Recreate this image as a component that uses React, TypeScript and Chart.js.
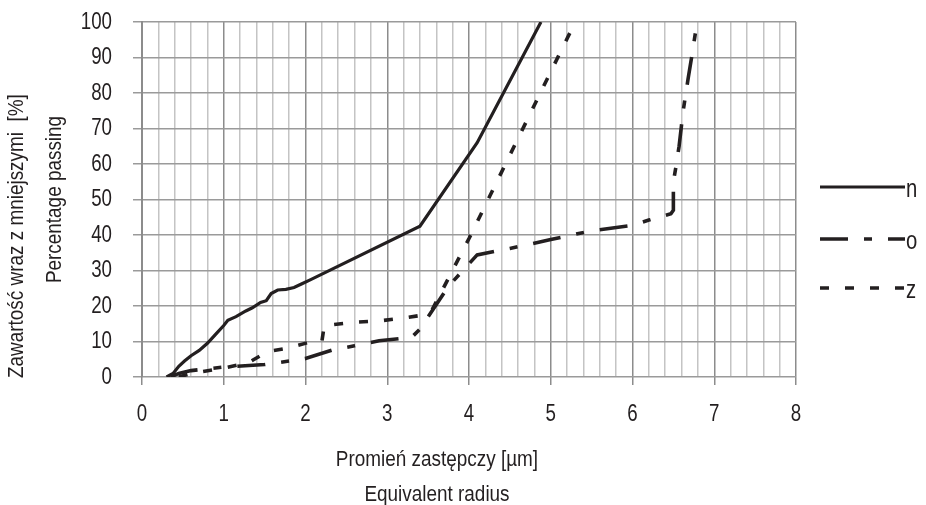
import React, { useEffect, useRef } from "react";
import { Chart, registerables } from "chart.js";

Chart.register(...registerables);

const xTickLabels = ["0", "1", "2", "3", "4", "5", "6", "7", "8"];
const yTickLabels = ["0", "10", "20", "30", "40", "50", "60", "70", "80", "90", "100"];

const seriesNames = ["n", "o", "z"];

const nX = [0.3, 0.38, 0.45, 0.52, 0.6, 0.7, 0.8, 0.9, 1.0, 1.05, 1.15, 1.27, 1.35, 1.45, 1.52, 1.58, 1.66, 1.76, 1.86, 1.95, 2.07, 3.4, 4.1, 4.88];
const nY = [0, 1, 3, 4.5, 6, 7.5, 9.5, 12, 14.5, 16, 17, 18.6, 19.5, 21, 21.5, 23.5, 24.5, 24.7, 25.2, 26.2, 27.5, 42.5, 66, 100];

const oX = [0.35, 0.45, 0.6, 1.0, 1.5, 1.8, 2.0, 2.33, 2.6, 2.9, 3.3, 3.4, 3.75, 4.1, 4.5, 5.0, 5.5, 6.0, 6.2, 6.47, 6.5, 6.5, 6.53, 6.57, 6.62, 6.68, 6.73, 6.79];
const oY = [0, 1, 1.8, 2.8, 3.5, 4.5, 5.2, 7.6, 8.8, 10.2, 11.2, 13.5, 25.6, 34.4, 36.2, 38.7, 41.2, 42.7, 44.2, 46, 47, 55, 59, 65, 75, 84, 91, 100];

const zX = [0.45, 0.6, 1.0, 1.3, 1.45, 1.5, 1.75, 2.05, 2.2, 2.23, 2.6, 2.9, 3.2, 3.45, 3.55, 4.0, 4.5, 5.0, 5.3];
const zY = [0, 1, 2.5, 4, 6, 7, 8, 9.8, 10, 14.5, 15.4, 15.8, 16.6, 17.5, 19, 39, 62.5, 86, 100];

const yTitleLines = ["Zawartość wraz z mniejszymi  [%]", "Percentage passing"];
const xTitleLines = ["Promień zastępczy [µm]", "Equivalent radius"];

const INK = "#231f20";
const FONT = "'Liberation Sans', Arial, sans-serif";

const toPoints = (xs: number[], ys: number[]) => xs.map((x, i) => ({ x, y: ys[i] }));

const isMajor = (v: number) => Math.abs(v - Math.round(v)) < 1e-6;

// condensed text: squeezed along the reading direction
function narrowText(
  ctx: CanvasRenderingContext2D,
  text: string,
  x: number,
  y: number,
  size: number,
  squeeze: number,
  align: CanvasTextAlign,
  rotate = 0
) {
  ctx.save();
  ctx.translate(x, y);
  if (rotate) ctx.rotate(rotate);
  ctx.scale(squeeze, 1);
  ctx.font = `${size}px ${FONT}`;
  ctx.textAlign = align;
  ctx.textBaseline = "middle";
  ctx.fillText(text, 0, 0);
  ctx.restore();
}

const textPlugin = {
  id: "customText",
  afterDraw(chart: any) {
    const ctx = chart.ctx as CanvasRenderingContext2D;
    const area = chart.chartArea;
    const xs = chart.scales.x;
    const ys = chart.scales.y;
    ctx.save();
    ctx.fillStyle = INK;

    // tick labels
    xs.ticks.forEach((t: any) => {
      if (!isMajor(t.value)) return;
      const label = xTickLabels[Math.round(t.value)];
      if (label === undefined) return;
      narrowText(ctx, label, xs.getPixelForValue(t.value), 414, 24, 0.78, "center");
    });
    ys.ticks.forEach((t: any) => {
      const label = yTickLabels[Math.round(t.value / 10)];
      if (label === undefined) return;
      narrowText(ctx, label, 112, ys.getPixelForValue(t.value), 24, 0.78, "right");
    });

    // x-axis titles
    narrowText(ctx, xTitleLines[0], 437, 460, 22, 0.86, "center");
    narrowText(ctx, xTitleLines[1], 437, 495, 22, 0.86, "center");

    // y-axis titles
    narrowText(ctx, yTitleLines[0], 17, area.bottom + 1, 22, 0.86, "left", -Math.PI / 2);
    narrowText(ctx, yTitleLines[1], 55, (area.top + area.bottom) / 2, 22, 0.86, "center", -Math.PI / 2);

    // legend
    const legendY = [187, 239, 288];
    chart.data.datasets.forEach((ds: any, i: number) => {
      const y = legendY[i];
      ctx.save();
      ctx.strokeStyle = ds.borderColor;
      ctx.lineWidth = ds.borderWidth;
      ctx.setLineDash(ds.borderDash || []);
      ctx.lineCap = "butt";
      ctx.beginPath();
      ctx.moveTo(820, y);
      ctx.lineTo(905, y);
      ctx.stroke();
      ctx.restore();
      narrowText(ctx, ds.label, 906, y + 3, 26, 0.78, "left");
    });
    ctx.restore();
  },
};

export default function App() {
  const canvasRef = useRef<HTMLCanvasElement | null>(null);

  useEffect(() => {
    if (!canvasRef.current) return;
    const chart = new Chart(canvasRef.current, {
      type: "line",
      data: {
        datasets: [
          {
            label: seriesNames[0],
            data: toPoints(nX, nY),
            borderColor: INK,
            borderWidth: 3.2,
            pointRadius: 0,
            tension: 0,
            fill: false,
          },
          {
            label: seriesNames[1],
            data: toPoints(oX, oY),
            borderColor: INK,
            borderWidth: 3.6,
            borderDash: [28, 16, 8, 16],
            pointRadius: 0,
            tension: 0,
            fill: false,
          },
          {
            label: seriesNames[2],
            data: toPoints(zX, zY),
            borderColor: INK,
            borderWidth: 3.6,
            borderDash: [9, 16],
            pointRadius: 0,
            tension: 0,
            fill: false,
          },
        ],
      },
      options: {
        responsive: false,
        animation: false,
        layout: { padding: { top: 22, right: 130, left: 0, bottom: 0 } },
        plugins: {
          legend: { display: false },
          tooltip: { enabled: false },
        },
        scales: {
          x: {
            type: "linear",
            position: "bottom",
            min: 0,
            max: 8,
            afterFit: (scale: any) => {
              scale.height = 128;
            },
            ticks: {
              display: false,
              stepSize: 0.2,
              autoSkip: false,
              maxRotation: 0,
            },
            grid: {
              color: (c: any) => (c.tick && isMajor(c.tick.value) ? "#8c8c8c" : "#c4c4c4"),
              lineWidth: 1.5,
              tickLength: 8,
              tickColor: (c: any) => (c.tick && isMajor(c.tick.value) ? "#8c8c8c" : "rgba(0,0,0,0)"),
            },
            border: { display: false },
          },
          y: {
            type: "linear",
            min: 0,
            max: 100,
            afterFit: (scale: any) => {
              scale.width = 142;
            },
            ticks: {
              display: false,
              stepSize: 10,
            },
            grid: {
              color: "#9a9a9a",
              lineWidth: 1.5,
              tickLength: 9,
              tickColor: "#9a9a9a",
            },
            border: { display: true, color: "#8c8c8c", width: 2 },
          },
        },
      },
      plugins: [textPlugin],
    });
    return () => chart.destroy();
  }, []);

  return (
    <div style={{ position: "absolute", left: 0, top: 0, width: 926, height: 505, background: "#fff" }}>
      <canvas ref={canvasRef} width={926} height={505} style={{ display: "block" }} />
    </div>
  );
}
